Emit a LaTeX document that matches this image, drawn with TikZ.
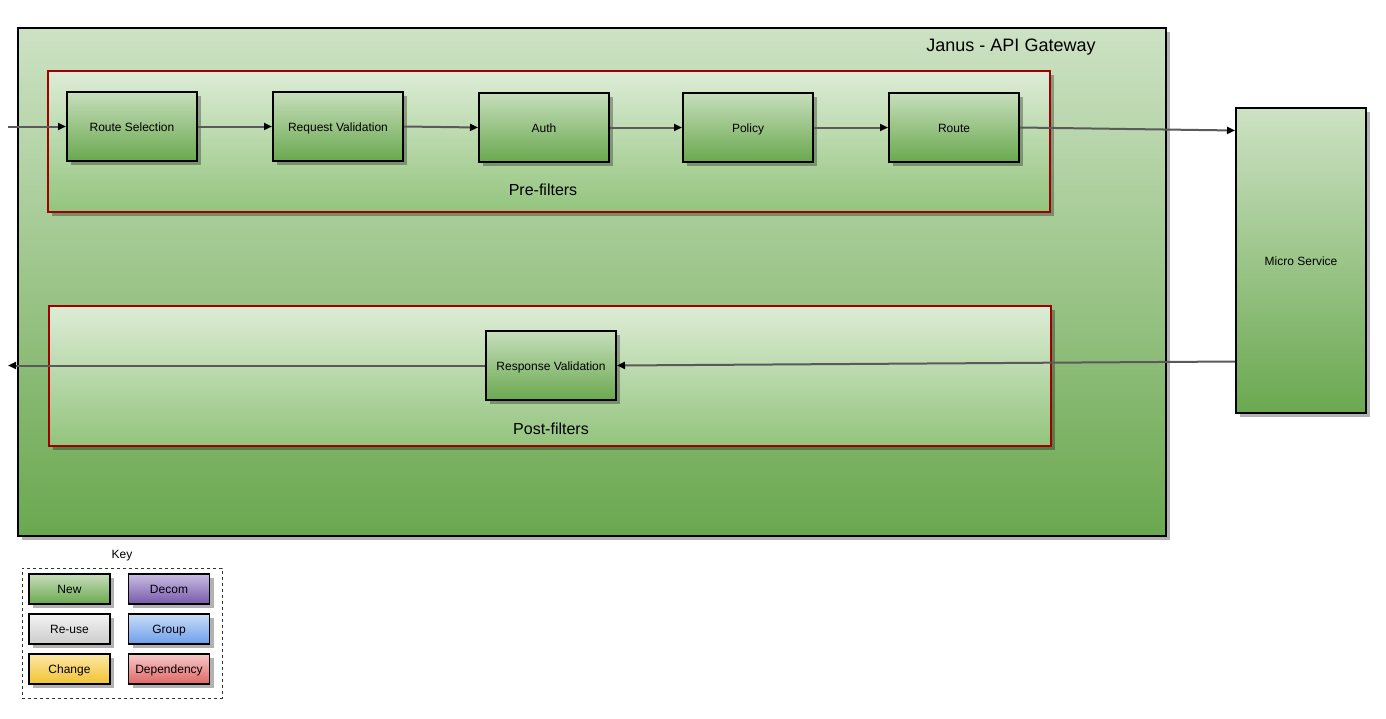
\documentclass[tikz,border=0pt]{standalone}
\usepackage{fontspec}
\setmainfont{Liberation Sans}
\usetikzlibrary{arrows.meta,shadows}

\definecolor{greenTop}{HTML}{CDE2C4}
\definecolor{greenBot}{HTML}{6AA84F}
\definecolor{paleTop}{HTML}{DDECD6}
\definecolor{paleBot}{HTML}{93C47D}
\definecolor{boxTop}{HTML}{C7DEBC}
\definecolor{frameRed}{HTML}{A00000}
\definecolor{wire}{HTML}{5A5A5A}
\definecolor{greyTop}{HTML}{F3F3F3}
\definecolor{greyBot}{HTML}{CCCCCC}
\definecolor{yelTop}{HTML}{FCE8A6}
\definecolor{yelBot}{HTML}{F1C232}
\definecolor{purTop}{HTML}{C9BDE2}
\definecolor{purBot}{HTML}{7659AB}
\definecolor{bluTop}{HTML}{C9DDF7}
\definecolor{bluBot}{HTML}{6D9EEB}
\definecolor{redTop}{HTML}{F5C9C9}
\definecolor{redBot}{HTML}{E06666}

\tikzset{
  shade/.style={drop shadow={shadow xshift=4pt, shadow yshift=-4pt, fill=black, opacity=0.3}},
  gateway/.style={shade, draw=black, line width=2pt, top color=greenTop, bottom color=greenBot},
  filtergroup/.style={shade, draw=frameRed, line width=1.8pt, top color=paleTop, bottom color=paleBot},
  boxtext/.style={font=\fontsize{12}{14}\selectfont, text height=12pt, text depth=2.5pt},
  filterbox/.style={shade, boxtext, draw=black, line width=2pt, top color=boxTop, bottom color=greenBot,
    minimum width=130pt, minimum height=69pt},
  keybox/.style={shade, boxtext, draw=black, line width=1.8pt, minimum width=81pt, minimum height=30pt},
  flow/.style={draw=wire, line width=2pt, -{Triangle[length=8pt,width=7pt,color=black]}},
  biglabel/.style={font=\fontsize{18}{21}\selectfont, text height=12pt, text depth=3.5pt},
  midlabel/.style={font=\fontsize{16}{19}\selectfont, text height=11pt, text depth=3pt},
}

\begin{document}
\begin{tikzpicture}[x=1pt,y=-1pt]
\useasboundingbox[fill=white] (0,0) rectangle (1386,718);

% gateway container
\node[gateway, minimum width=1148pt, minimum height=508pt] (gw) at (592,282) {};
\node[biglabel] (gwlabel) at (1011,47) {Janus - API Gateway};

% filter groups
\node[filtergroup, minimum width=1002pt, minimum height=141pt] (pre) at (549,141.5) {};
\node[midlabel] (prelabel) at (543,191) {Pre-filters};
\node[filtergroup, minimum width=1002pt, minimum height=140pt] (post) at (550,376) {};
\node[midlabel] (postlabel) at (551,430) {Post-filters};

% pre-filter chain
\node[filterbox] (sel)    at (132,126.5) {Route Selection};
\node[filterbox] (reqval) at (338,126.5) {Request Validation};
\node[filterbox] (auth)   at (544,127.5) {Auth};
\node[filterbox] (policy) at (748,127.5) {Policy};
\node[filterbox] (route)  at (954,127.5) {Route};

% post-filter
\node[filterbox] (resval) at (551,365.5) {Response Validation};

% backend
\node[gateway, boxtext, minimum width=130pt, minimum height=305pt] (ms) at (1301,260.5) {Micro Service};

% connectors
\coordinate (in)  at (8,126.5);
\coordinate (out) at (8,365.5);
\draw[flow] (in) -- (sel.west);
\draw[flow] (sel) -- (reqval);
\draw[flow] (reqval.east) -- (auth.west);
\draw[flow] (auth) -- (policy);
\draw[flow] (policy) -- (route);
\draw[flow] (route.east) -- ([yshift=-3pt]route.east -| ms.west);
\draw[flow] ([yshift=4pt]ms.west |- resval.east) -- (resval.east);
\draw[flow] (resval.west) -- (out);

% key
\node[boxtext] (keylabel) at (122,554) {Key};
\node[draw=black!80, dashed, line width=0.9pt, minimum width=200pt, minimum height=130pt] (keyframe) at (122,633) {};
\node[keybox, top color=boxTop, bottom color=greenBot] (knew)  at (69.5,589) {New};
\node[keybox, top color=purTop, bottom color=purBot]   (kdec)  at (169,589) {Decom};
\node[keybox, top color=greyTop, bottom color=greyBot] (kreu)  at (69.5,629) {Re-use};
\node[keybox, top color=bluTop, bottom color=bluBot]   (kgrp)  at (169,629) {Group};
\node[keybox, top color=yelTop, bottom color=yelBot]   (kchg)  at (69.5,669) {Change};
\node[keybox, top color=redTop, bottom color=redBot]   (kdep)  at (169,669) {Dependency};
\end{tikzpicture}
\end{document}
